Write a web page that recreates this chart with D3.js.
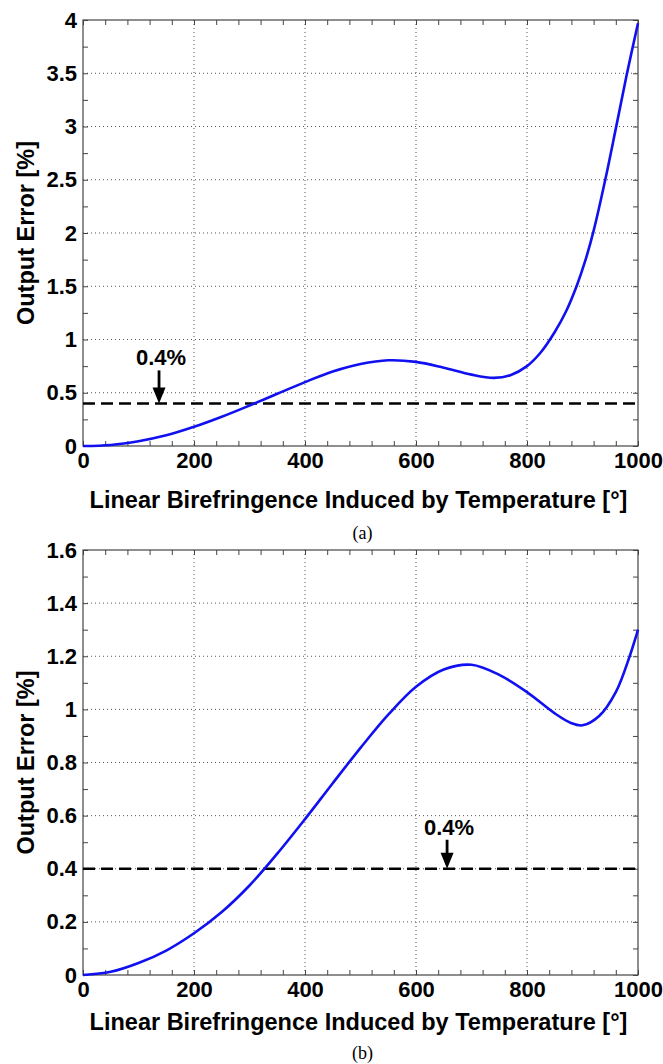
<!DOCTYPE html>
<html>
<head>
<meta charset="utf-8">
<script src="https://cdn.jsdelivr.net/npm/d3@7"></script>
<style>
  body { margin: 0; background: #fff; }
  svg { display: block; }
  .tick text { font-family: "Liberation Sans", Arial, sans-serif; font-weight: bold; font-size: 22px; fill: #000; }
  .domain { display: none; }
</style>
</head>
<body>
<script>
'use strict';

var width = 663,
    height = 1064;

// panel (a) - output error vs birefringence
var birefA = [0, 50, 100, 150, 200, 250, 300, 350, 400, 450, 500, 550, 600, 650, 700, 740, 770, 800, 825, 850, 870, 890, 905, 920, 941, 960, 979, 1000];
var errorA = [0, 0.01, 0.045, 0.10, 0.18, 0.275, 0.38, 0.49, 0.60, 0.70, 0.77, 0.805, 0.79, 0.735, 0.67, 0.64, 0.665, 0.75, 0.88, 1.07, 1.26, 1.51, 1.74, 2.02, 2.5, 2.98, 3.47, 3.97];

// panel (b)
var birefB = [0, 50, 100, 150, 200, 250, 300, 350, 400, 450, 500, 550, 600, 650, 700, 750, 800, 850, 880, 900, 930, 960, 985, 1000];
var errorB = [0, 0.012, 0.045, 0.092, 0.157, 0.237, 0.337, 0.457, 0.587, 0.722, 0.855, 0.98, 1.085, 1.15, 1.168, 1.13, 1.065, 0.985, 0.948, 0.94, 0.975, 1.065, 1.2, 1.3];

var xTicks = [0, 200, 400, 600, 800, 1000];
var yTicksA = [0, 0.5, 1, 1.5, 2, 2.5, 3, 3.5, 4];
var yTicksB = [0, 0.2, 0.4, 0.6, 0.8, 1, 1.2, 1.4, 1.6];

var threshold = 0.4,
    thresholdLabel = "0.4%";
var arrowAtA = 137,
    arrowAtB = 656;

var xTitle = "Linear Birefringence Induced by Temperature [°]",
    yTitle = "Output Error [%]";

var svg = d3.select("body").append("svg")
  .attr("width", width)
  .attr("height", height);

var left = 83, right = 638;
var boldFont = "Liberation Sans, Arial, sans-serif";

var x = d3.scaleLinear().domain([0, 1000]).range([left, right]);

function drawPanel(opt) {
  var y = d3.scaleLinear().domain([0, opt.yMax]).range([opt.bottom, opt.top]);
  var g = svg.append("g");

  // dotted grid
  g.selectAll("line.gx")
    .data(xTicks.slice(1, -1))
    .enter().append("line")
    .attr("x1", d => x(d)).attr("x2", d => x(d))
    .attr("y1", opt.top).attr("y2", opt.bottom)
    .attr("stroke", "#555").attr("stroke-width", 1)
    .attr("stroke-dasharray", "1,3");
  g.selectAll("line.gy")
    .data(opt.yTicks.slice(1, -1))
    .enter().append("line")
    .attr("x1", left).attr("x2", right)
    .attr("y1", d => y(d)).attr("y2", d => y(d))
    .attr("stroke", "#555").attr("stroke-width", 1)
    .attr("stroke-dasharray", "1,3");

  var xMinor = d3.range(0, 1000.01, 40);
  var yMinor = d3.range(0, opt.yMax + 1e-6, opt.yMinor).map(d => +d.toFixed(3));

  // inward ticks on all four sides
  g.append("g").attr("transform", "translate(0," + opt.bottom + ")")
    .call(d3.axisBottom(x).tickValues(xMinor).tickSize(-5).tickFormat(""));
  g.append("g").attr("transform", "translate(0," + opt.top + ")")
    .call(d3.axisTop(x).tickValues(xMinor).tickSize(-5).tickFormat(""));
  g.append("g").attr("transform", "translate(" + left + ",0)")
    .call(d3.axisLeft(y).tickValues(yMinor).tickSize(-5).tickFormat(""));
  g.append("g").attr("transform", "translate(" + right + ",0)")
    .call(d3.axisRight(y).tickValues(yMinor).tickSize(-5).tickFormat(""));

  // labels
  g.append("g").attr("transform", "translate(0," + opt.bottom + ")")
    .call(d3.axisBottom(x).tickValues(xTicks).tickSize(0).tickPadding(6).tickFormat(d3.format("d")));
  g.append("g").attr("transform", "translate(" + left + ",0)")
    .call(d3.axisLeft(y).tickValues(opt.yTicks).tickSize(0).tickPadding(6).tickFormat(d => String(d)));

  g.selectAll(".tick line").attr("stroke", "#444");

  // box
  g.append("rect")
    .attr("x", left).attr("y", opt.top)
    .attr("width", right - left).attr("height", opt.bottom - opt.top)
    .attr("fill", "none").attr("stroke", "#444").attr("stroke-width", 1.2);

  // threshold line
  g.append("line")
    .attr("x1", left).attr("x2", right)
    .attr("y1", y(threshold)).attr("y2", y(threshold))
    .attr("stroke", "#000").attr("stroke-width", 2.5)
    .attr("stroke-dasharray", "12,6");

  // curve
  var line = d3.line()
    .x(d => x(d[0]))
    .y(d => y(d[1]))
    .curve(d3.curveCatmullRom.alpha(0.5));
  g.append("path")
    .datum(d3.zip(opt.xs, opt.ys))
    .attr("d", line)
    .attr("fill", "none")
    .attr("stroke", "#1010f0")
    .attr("stroke-width", 2.6);

  // arrow + label
  var ax = x(opt.arrowAt), tip = y(threshold);
  g.append("line")
    .attr("x1", ax).attr("x2", ax)
    .attr("y1", tip - opt.arrowLen).attr("y2", tip - 12)
    .attr("stroke", "#000").attr("stroke-width", 2.8);
  g.append("path")
    .attr("d", "M" + (ax - 6.5) + "," + (tip - 16) + "L" + (ax + 6.5) + "," + (tip - 16) + "L" + ax + "," + tip + "Z")
    .attr("fill", "#000");
  g.append("text")
    .attr("x", ax + 2).attr("y", tip - opt.arrowLen - 5)
    .attr("text-anchor", "middle")
    .style("font-family", boldFont)
    .style("font-weight", "bold").style("font-size", "22px")
    .text(thresholdLabel);

  // titles
  g.append("text")
    .attr("x", (left + right) / 2 - 2).attr("y", opt.bottom + opt.titleGap)
    .attr("text-anchor", "middle")
    .style("font-family", boldFont)
    .style("font-weight", "bold").style("font-size", "23.5px")
    .text(xTitle);
  g.append("text")
    .attr("transform", "translate(34," + ((opt.top + opt.bottom) / 2) + ") rotate(-90)")
    .attr("text-anchor", "middle")
    .style("font-family", boldFont)
    .style("font-weight", "bold").style("font-size", "23.5px")
    .text(yTitle);
  g.append("text")
    .attr("x", (left + right) / 2 + 2).attr("y", opt.bottom + opt.capGap)
    .attr("text-anchor", "middle")
    .style("font-family", "Liberation Serif, Times New Roman, serif")
    .style("font-size", "18px")
    .text(opt.caption);
}

drawPanel({top: 20, bottom: 446, yMax: 4, yMinor: 0.25, yTicks: yTicksA,
           xs: birefA, ys: errorA, arrowAt: arrowAtA, arrowLen: 33,
           titleGap: 62, capGap: 93, caption: "(a)"});
drawPanel({top: 550, bottom: 975, yMax: 1.6, yMinor: 0.1, yTicks: yTicksB,
           xs: birefB, ys: errorB, arrowAt: arrowAtB, arrowLen: 29,
           titleGap: 55, capGap: 84, caption: "(b)"});
</script>
</body>
</html>
